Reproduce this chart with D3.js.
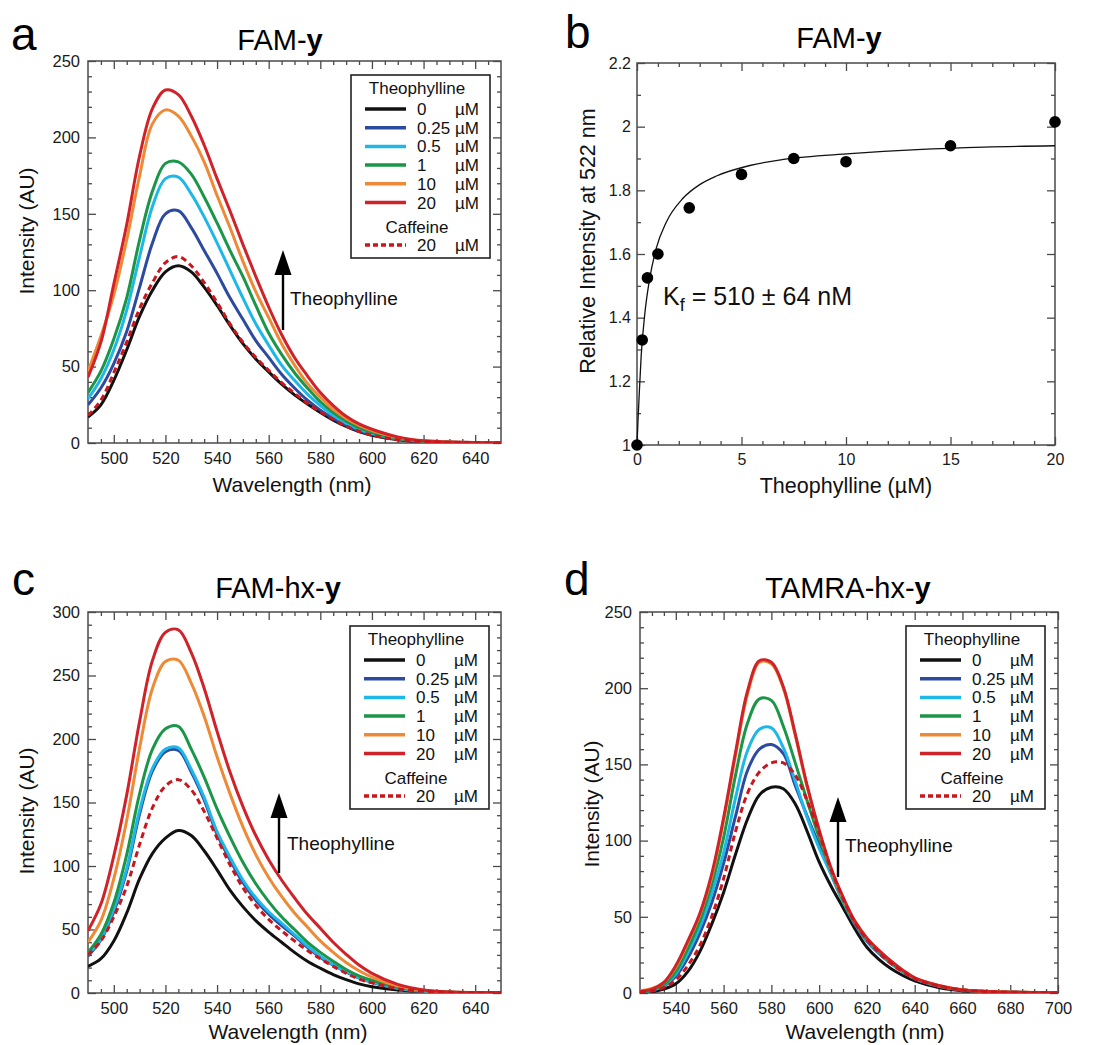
<!DOCTYPE html>
<html>
<head>
<meta charset="utf-8">
<script src="https://cdn.jsdelivr.net/npm/d3@7"></script>
<style>
  body { margin: 0; background: #fff; }
  svg { display: block; font-family: "Liberation Sans", Arial, Helvetica, sans-serif; }
</style>
</head>
<body>
<svg id="fig" width="1094" height="1045"></svg>
<script>
// ---- data ----
// panels a and c share the same wavelength grid (nm)
const wlFam = [490,495,500,505,510,515,520,525,530,535,540,545,550,555,560,565,570,575,580,585,590,595,600,610,620,630,640,650];

// a: FAM-y
const famY_0   = [17,25,41,61,83,100,112,116,112,102,90,77,65,55,46.5,38.5,31.5,25.5,20,15,10.8,7.4,5,2.1,0.9,0.4,0.2,0.1];
const famY_025 = [25,36,52,73,102,131,150,152,141,126,111,95,81,67,56,45,36,28,21.5,16,11.5,8,5.6,2.4,1,0.5,0.3,0.2];
const famY_05  = [29,42,61,87,122,155,173,174,163,148,131,113,95,78,64,51,41,32,24.5,18,13,9,6.3,2.7,1.1,0.5,0.3,0.2];
const famY_1   = [33,47,68,95,133,165,183,184,176,161,144,126,109,90,72,58,46,36,27,20,14.5,10,7,3,1.2,0.5,0.3,0.2];
const famY_10  = [47,70,97,133,175,209,218,214,201,184,162,141,119,99,82,65,51,39,30,22,16,11.5,8.2,3.5,1.4,0.6,0.3,0.2];
const famY_20  = [43,66,104,143,188,219,231,228,214,195,173,152,130,109,89,71,56,44,33,24.5,17.5,12.5,9,4,1.4,0.6,0.3,0.2];
const famY_caf = [18,28,46,66,88,105,118,122,116,105,92,78,66,56,47.5,39.5,32.5,26,20.5,15.5,11,7.6,5.1,2.1,0.9,0.4,0.2,0.1];

// c: FAM-hx-y
const hxY_0   = [21,27,41,63,90,110,122,128,124,112,97,81,68,57,48,40,32,25,19.5,14.5,10.5,7.2,5,2.4,1.2,0.6,0.3,0.2];
const hxY_025 = [29,42,64,96,141,175,190,191,174,152,125,105,87,73,62,53,45,36,28,22,16.5,11.7,8.5,3.7,1.4,0.6,0.4,0.3];
const hxY_05  = [30,43,66,98,144,177,192,193,176,154,127,107,89,75,64,55,46,37,29,22.5,17,12,8.7,3.8,1.4,0.6,0.4,0.3];
const hxY_1   = [32,46,71,109,157,192,208,210,192,170,145,123,103,86,72,60,50,40,32,25,18.5,13.5,10,4.5,1.7,0.6,0.4,0.3];
const hxY_10  = [40,57,90,136,193,240,261,262,244,218,186,157,131,109,91,76,63,52,41,32,24,17.5,12.5,5.5,2,0.7,0.4,0.3];
const hxY_20  = [49,70,108,156,214,262,284,286,268,240,206,174,147,124,105,89,75,62,51,40,30.5,22,15.5,6.8,2.4,0.8,0.4,0.3];
const hxY_caf = [30,41,60,84,117,146,163,168,160,143,122,101,83,69,58,49,41,33.5,27,21,15.5,11,8,3.5,1.3,0.5,0.3,0.2];

// d: TAMRA-hx-y
const wlTam = [525,530,535,540,545,550,555,560,565,570,575,580,585,590,595,600,605,610,615,620,625,630,635,640,650,660,670,680,690,700];
const tamY_0   = [0.3,0.8,2.5,6,14,27,45,66,91,114,130,135,134,124,106,86,70,56,42,30,22,16,11.5,8,3.6,1.5,0.7,0.4,0.2,0.1];
const tamY_025 = [0.6,1.6,4.5,11,23,39,59,85,116,146,160,163,157,136,116,97,78,60,45,34,26,19.5,14,9.5,4.5,2,1,0.5,0.3,0.2];
const tamY_05  = [0.7,1.8,5,12.5,26,43,65,92,128,159,173,174,161,139,115,95,78,60,45.5,34.5,26.5,19.5,14,9.5,4.6,2,1,0.5,0.3,0.2];
const tamY_1   = [0.8,2,5.5,14,29,47,71,102,143,177,193,192,175,151,126,102,80,61,46,35,27,20,14.5,9.7,4.7,2,1,0.5,0.3,0.2];
const tamY_10  = [1.5,3,7,17,33,51,76,113,156,196,217,216,200,169,135,106,81,62,47,36,28,21,15,10,5,2.2,1.2,0.6,0.4,0.3];
const tamY_20  = [1,2.5,7,18,34,52,78,115,158,198,218,217,201,170,136,107,82,63,47,36,28,21,15,10,5,2,1,0.5,0.3,0.2];
const tamY_caf = [0.5,1.3,3.5,8.5,18,31,50,75,106,131,145,151,151,143,126,105,81,62,46,35,26.5,19.5,14,9.5,4.5,2,1,0.5,0.3,0.2];

// b: titration at 522 nm
const concB = [0, 0.25, 0.5, 1, 2.5, 5, 7.5, 10, 15, 20];
const relB  = [1.0, 1.33, 1.525, 1.60, 1.745, 1.85, 1.90, 1.89, 1.94, 2.015];
// fitted curve, traced
const fitConc = [0, 0.05, 0.1, 0.2, 0.37, 0.6, 0.93, 1.4, 2.2, 3.0, 3.8, 5.4, 7, 10.2, 13.4, 16.6, 20];
const fitRel  = [1.0, 1.08, 1.15, 1.28, 1.41, 1.52, 1.62, 1.70, 1.775, 1.818, 1.845, 1.878, 1.897, 1.915, 1.928, 1.936, 1.94];

const concLabels = ["0", "0.25", "0.5", "1", "10", "20"];
const caffeineLabel = "20";

// styles
const seriesColors = ["#111111", "#2c4a9f", "#1db7e8", "#1b9548", "#ee8a36", "#cf2229"];
const caffeineColor = "#c8161d";
const axisColor = "#4a4a4a";

const svg = d3.select("#fig");
svg.append("rect").attr("width", 1094).attr("height", 1045).attr("fill", "#fff");

function drawTicks(g, x, y, box, tk) {
  const put = (axis, tr) => {
    const a = g.append("g").attr("transform", tr).call(axis);
    a.attr("font-size", null).attr("font-family", null);
    a.select(".domain").remove();
    a.selectAll(".tick line").attr("stroke", axisColor).attr("stroke-width", 1.3);
    a.selectAll(".tick text").attr("fill", "#1a1a1a").style("font-size", tk.fs + "px");
    return a;
  };
  const none = () => "";
  put(d3.axisBottom(x).tickValues(tk.xMajor).tickSizeInner(-8).tickSizeOuter(0).tickPadding(9).tickFormat(tk.xFmt), `translate(0,${box.b})`);
  put(d3.axisBottom(x).tickValues(tk.xMinor).tickSizeInner(-4).tickSizeOuter(0).tickFormat(none), `translate(0,${box.b})`);
  put(d3.axisTop(x).tickValues(tk.xMajor).tickSizeInner(-8).tickSizeOuter(0).tickFormat(none), `translate(0,${box.t})`);
  put(d3.axisTop(x).tickValues(tk.xMinor).tickSizeInner(-4).tickSizeOuter(0).tickFormat(none), `translate(0,${box.t})`);
  put(d3.axisLeft(y).tickValues(tk.yMajor).tickSizeInner(-8).tickSizeOuter(0).tickPadding(tk.yPad).tickFormat(tk.yFmt), `translate(${box.l},0)`);
  put(d3.axisLeft(y).tickValues(tk.yMinor).tickSizeInner(-4).tickSizeOuter(0).tickFormat(none), `translate(${box.l},0)`);
  put(d3.axisRight(y).tickValues(tk.yMajor).tickSizeInner(-8).tickSizeOuter(0).tickFormat(none), `translate(${box.r},0)`);
  put(d3.axisRight(y).tickValues(tk.yMinor).tickSizeInner(-4).tickSizeOuter(0).tickFormat(none), `translate(${box.r},0)`);
  g.append("rect")
    .attr("x", box.l).attr("y", box.t)
    .attr("width", box.r - box.l).attr("height", box.b - box.t)
    .attr("fill", "none").attr("stroke", axisColor).attr("stroke-width", 1.5);
}

function panelLetter(txt, px, py) {
  svg.append("text").attr("x", px).attr("y", py).style("font-size", "46px").attr("fill", "#000").text(txt);
}

function panelTitle(plain, bold, cx, by) {
  const t = svg.append("text").attr("x", cx).attr("y", by).attr("text-anchor", "middle")
    .style("font-size", "29px").attr("fill", "#000");
  t.append("tspan").text(plain);
  t.append("tspan").attr("font-weight", "bold").text(bold);
}

function axisTitles(xt, xcx, xby, yt, ybx, ycy, fs) {
  svg.append("text").attr("x", xcx).attr("y", xby).attr("text-anchor", "middle")
    .style("font-size", fs + "px").attr("fill", "#111").text(xt);
  svg.append("text").attr("transform", `translate(${ybx},${ycy}) rotate(-90)`).attr("text-anchor", "middle")
    .style("font-size", fs + "px").attr("fill", "#111").text(yt);
}

function legend(lx, ly) {
  const g = svg.append("g").style("font-size", "17px").attr("fill", "#111");
  g.append("rect").attr("x", lx).attr("y", ly).attr("width", 139).attr("height", 183)
    .attr("fill", "#fff").attr("stroke", "#222").attr("stroke-width", 1.6);
  g.append("text").attr("x", lx + 66).attr("y", ly + 19.2).attr("text-anchor", "middle").text("Theophylline");
  concLabels.forEach((c, i) => {
    const by = ly + 40 + i * 18.7;
    g.append("line").attr("x1", lx + 14).attr("x2", lx + 55).attr("y1", by - 6).attr("y2", by - 6)
      .attr("stroke", seriesColors[i]).attr("stroke-width", 3.5);
    g.append("text").attr("x", lx + 66).attr("y", by).text(c);
    g.append("text").attr("x", lx + 104).attr("y", by).text("µM");
  });
  g.append("text").attr("x", lx + 66).attr("y", ly + 158.3).attr("text-anchor", "middle").text("Caffeine");
  const cy = ly + 176;
  g.append("line").attr("x1", lx + 14).attr("x2", lx + 55).attr("y1", cy - 6).attr("y2", cy - 6)
    .attr("stroke", caffeineColor).attr("stroke-width", 3.5).attr("stroke-dasharray", "5,3");
  g.append("text").attr("x", lx + 66).attr("y", cy).text(caffeineLabel);
  g.append("text").attr("x", lx + 104).attr("y", cy).text("µM");
}

function upArrow(ax, tipY, baseY, tx, tby) {
  svg.append("line").attr("x1", ax).attr("x2", ax).attr("y1", baseY).attr("y2", tipY + 20)
    .attr("stroke", "#000").attr("stroke-width", 2.4);
  svg.append("path").attr("d", `M${ax},${tipY} L${ax - 8.5},${tipY + 25} L${ax + 8.5},${tipY + 25} Z`).attr("fill", "#000");
  svg.append("text").attr("x", tx).attr("y", tby).style("font-size", "19px").attr("fill", "#111").text("Theophylline");
}

function spectrumPanel(p) {
  const box = p.box;
  const x = d3.scaleLinear().domain(p.xDomain).range([box.l, box.r]);
  const y = d3.scaleLinear().domain([0, p.yMax]).range([box.b, box.t]);
  const g = svg.append("g");
  const clipId = "clip-" + p.id;
  g.append("clipPath").attr("id", clipId).append("rect")
    .attr("x", box.l).attr("y", box.t).attr("width", box.r - box.l).attr("height", box.b - box.t);

  const xMajor = d3.range(p.xMajorStart, p.xDomain[1] + 1, 20);
  const xMinor = d3.range(p.xDomain[0] + 5, p.xDomain[1], 5).filter(v => !xMajor.includes(v));
  const yMajor = d3.range(0, p.yMax + 1, 50);
  const yMinor = d3.range(10, p.yMax, 10).filter(v => v % 50 !== 0);
  drawTicks(g, x, y, box, { xMajor, xMinor, yMajor, yMinor, xFmt: d3.format("d"), yFmt: d3.format("d"), fs: 16.5, yPad: 8 });

  const line = d3.line().x(d => x(d[0])).y(d => y(d[1])).curve(d3.curveCatmullRom.alpha(0.5));
  const curves = g.append("g").attr("clip-path", `url(#${clipId})`).attr("fill", "none");
  p.series.forEach((vals, i) => {
    curves.append("path").attr("d", line(p.wl.map((w, k) => [w, vals[k]])))
      .attr("stroke", seriesColors[i]).attr("stroke-width", 3).attr("stroke-linejoin", "round");
  });
  curves.append("path").attr("d", line(p.wl.map((w, k) => [w, p.caffeine[k]])))
    .attr("stroke", caffeineColor).attr("stroke-width", 3).attr("stroke-dasharray", "6,4");
}

// ---- panel a ----
spectrumPanel({
  id: "a", box: { l: 88, r: 501, t: 61, b: 443 }, xDomain: [490, 650], xMajorStart: 500, yMax: 250,
  wl: wlFam, series: [famY_0, famY_025, famY_05, famY_1, famY_10, famY_20], caffeine: famY_caf
});
panelLetter("a", 11, 50);
panelTitle("FAM-", "y", 280, 50);
axisTitles("Wavelength (nm)", 292, 492, "Intensity (AU)", 34, 231, 21);
legend(351, 75);
upArrow(283, 250, 330, 290, 305);

// ---- panel c ----
spectrumPanel({
  id: "c", box: { l: 88, r: 501, t: 612, b: 993 }, xDomain: [490, 650], xMajorStart: 500, yMax: 300,
  wl: wlFam, series: [hxY_0, hxY_025, hxY_05, hxY_1, hxY_10, hxY_20], caffeine: hxY_caf
});
panelLetter("c", 12, 595);
panelTitle("FAM-hx-", "y", 278, 598);
axisTitles("Wavelength (nm)", 288, 1039, "Intensity (AU)", 34, 811, 21);
legend(350, 626);
upArrow(279, 793, 873, 287, 850);

// ---- panel d ----
spectrumPanel({
  id: "d", box: { l: 640, r: 1058, t: 612, b: 993 }, xDomain: [525, 700], xMajorStart: 540, yMax: 250,
  wl: wlTam, series: [tamY_0, tamY_025, tamY_05, tamY_1, tamY_10, tamY_20], caffeine: tamY_caf
});
panelLetter("d", 564, 595);
panelTitle("TAMRA-hx-", "y", 848, 598);
axisTitles("Wavelength (nm)", 865, 1039, "Intensity (AU)", 599, 804, 21);
legend(906, 626);
upArrow(838, 797, 877, 845, 852);

// ---- panel b ----
(function () {
  const box = { l: 637, r: 1055, t: 63, b: 445 };
  const x = d3.scaleLinear().domain([0, 20]).range([box.l, box.r]);
  const y = d3.scaleLinear().domain([1, 2.2]).range([box.b, box.t]);
  const g = svg.append("g");
  const xMajor = [0, 5, 10, 15, 20];
  const xMinor = d3.range(1, 20).filter(v => v % 5 !== 0);
  const yMajor = [1, 1.2, 1.4, 1.6, 1.8, 2, 2.2];
  const yMinor = [1.1, 1.3, 1.5, 1.7, 1.9, 2.1];
  drawTicks(g, x, y, box, {
    xMajor, xMinor, yMajor, yMinor,
    xFmt: d3.format("d"), yFmt: v => (Math.abs(v - Math.round(v)) < 1e-9 ? String(Math.round(v)) : v.toFixed(1)),
    fs: 16, yPad: 6
  });

  g.append("path")
    .attr("d", d3.line().x(d => x(d[0])).y(d => y(d[1])).curve(d3.curveMonotoneX)(fitConc.map((c, i) => [c, fitRel[i]])))
    .attr("fill", "none").attr("stroke", "#111").attr("stroke-width", 1.3);

  g.selectAll("circle.pt").data(concB.map((c, i) => [c, relB[i]])).join("circle")
    .attr("class", "pt").attr("cx", d => x(d[0])).attr("cy", d => y(d[1])).attr("r", 5.8).attr("fill", "#000");

  const k = svg.append("text").attr("x", 663).attr("y", 305).style("font-size", "25px").attr("fill", "#111");
  k.append("tspan").text("K");
  k.append("tspan").attr("dy", 6).style("font-size", "18px").text("f");
  k.append("tspan").attr("dy", -6).text(" = 510 ± 64 nM");
})();
panelLetter("b", 565, 48);
panelTitle("FAM-", "y", 839, 48);
axisTitles("Theophylline (µM)", 846, 493, "Relative Intensity at 522 nm", 595, 241, 21.5);
</script>
</body>
</html>
